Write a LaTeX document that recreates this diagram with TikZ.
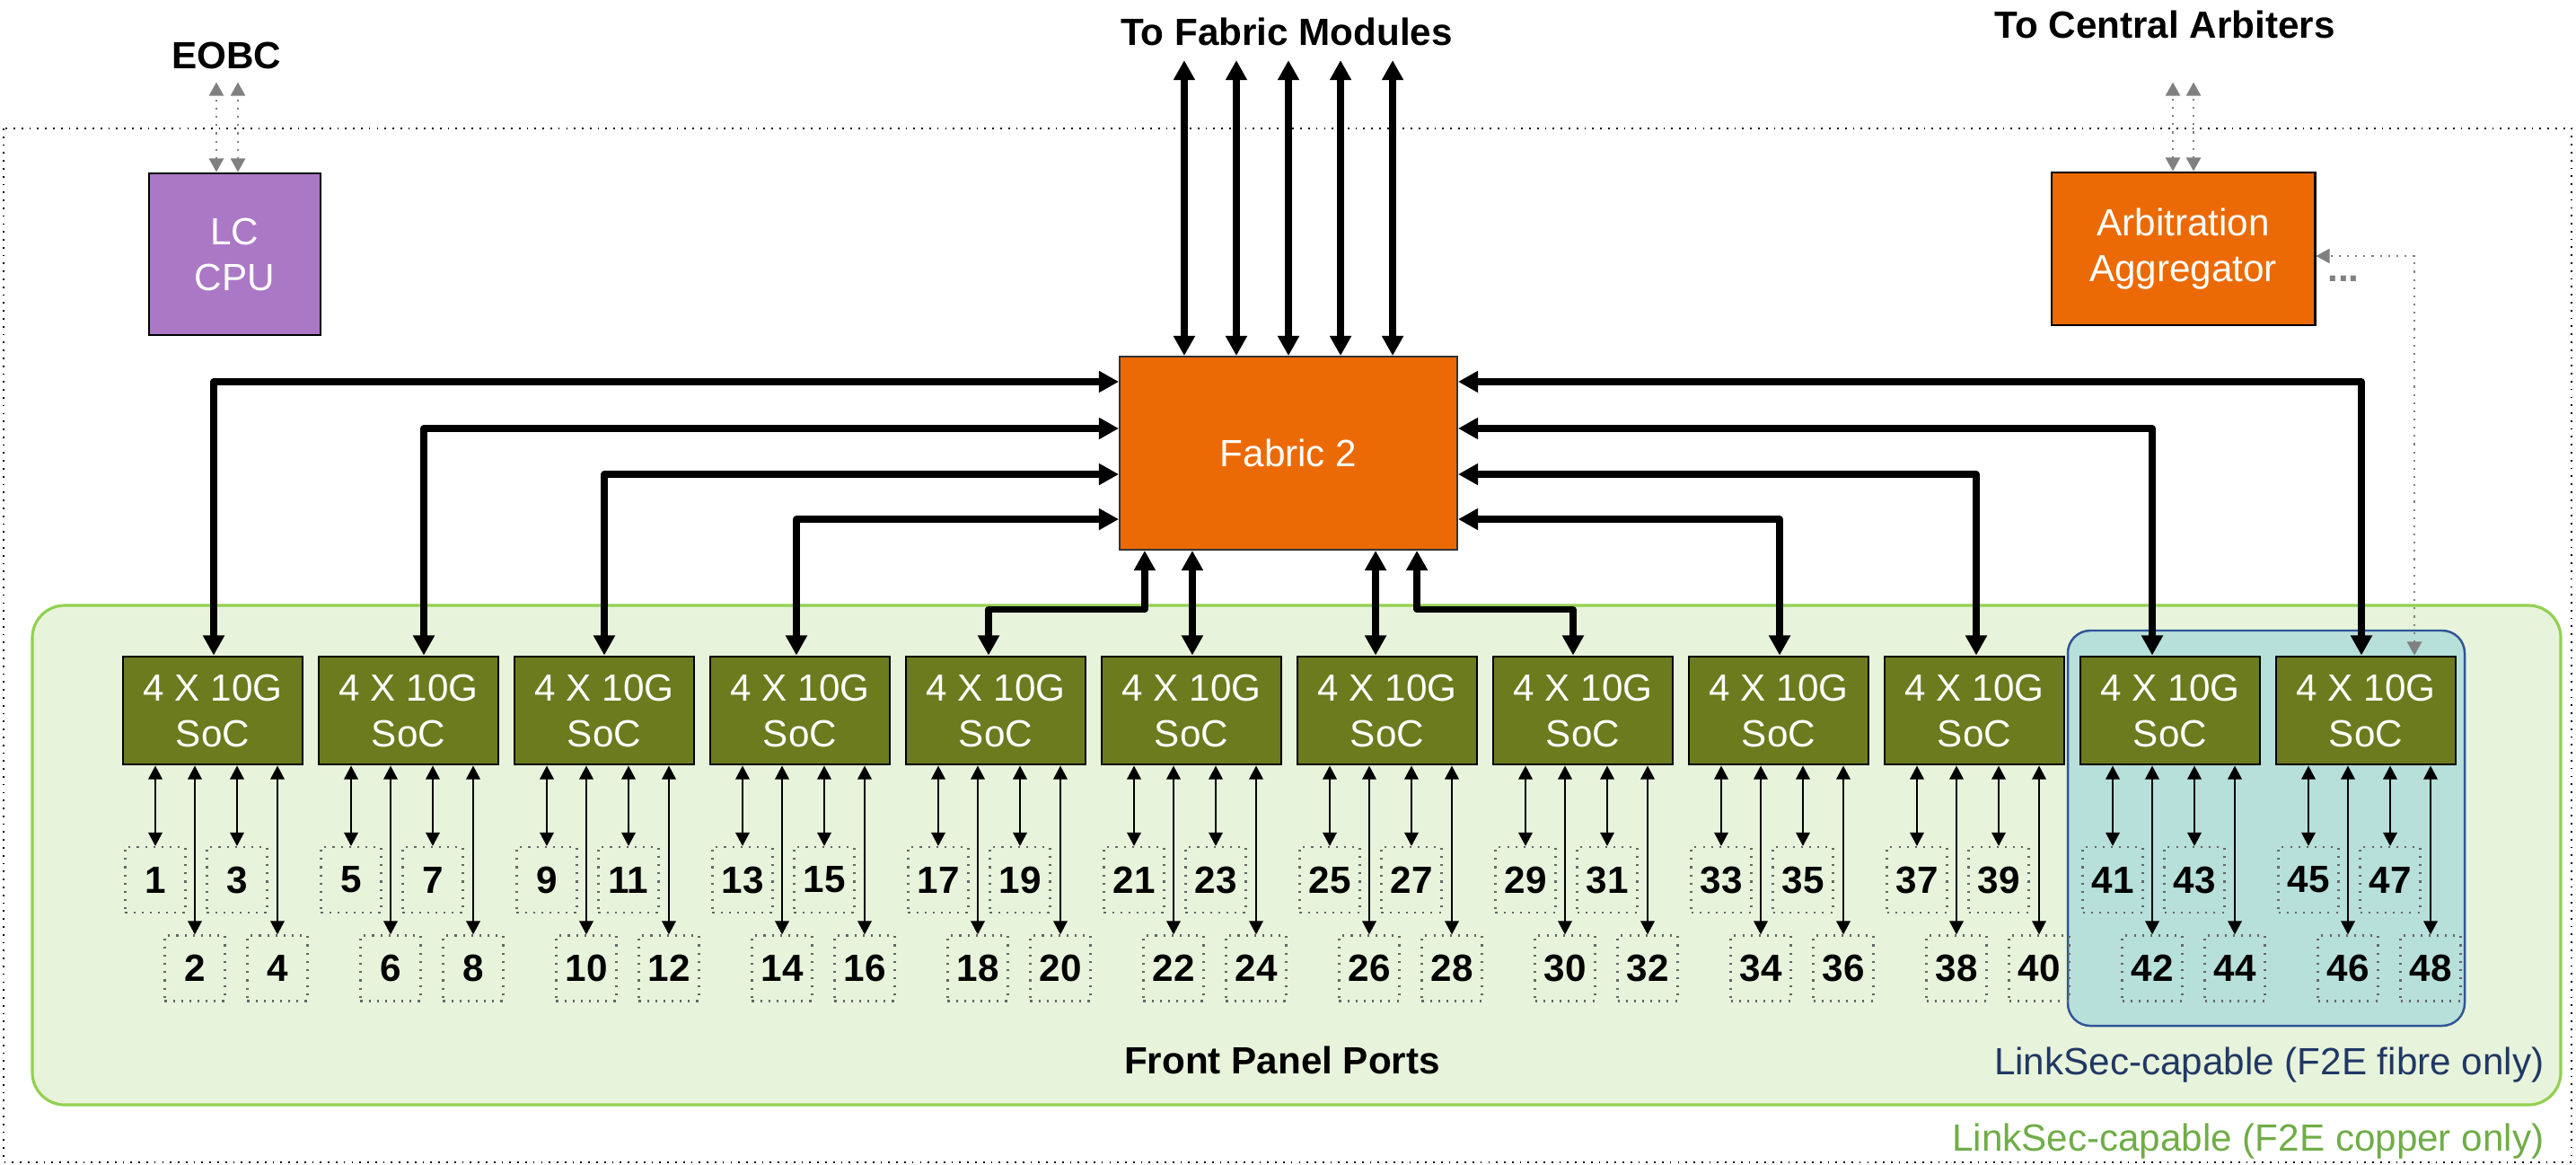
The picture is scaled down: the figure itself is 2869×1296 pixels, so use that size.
\documentclass[tikz,border=0pt]{standalone}
\usepackage{fontspec}
\setmainfont{Liberation Sans}
\usepackage{xcolor}
\usepackage{tikz}
\usetikzlibrary{positioning, arrows.meta, calc}

\definecolor{cpupurple}{HTML}{AB78C6}
\definecolor{fabrange}{HTML}{EC6A05}
\definecolor{socgreen}{HTML}{6B7B1E}
\definecolor{panelfill}{HTML}{E8F3DC}
\definecolor{paneledge}{HTML}{92D050}
\definecolor{fibrefill}{HTML}{B8E0DA}
\definecolor{fibreedge}{HTML}{2F5597}
\definecolor{fibretext}{HTML}{203864}
\definecolor{coppertext}{HTML}{70AD47}
\definecolor{ctlgray}{HTML}{808080}

\tikzset{
  box/.style={draw=black, line width=0.8pt, text=white, align=center,
    font=\fontsize{12pt}{14.5pt}\selectfont},
  soc/.style={box, fill=socgreen, minimum width=2cm, minimum height=1.2cm},
  port/.style={draw=black!60, dotted, line width=0.6pt, minimum width=0.67cm,
    minimum height=0.73cm, inner sep=0pt, font=\bfseries\fontsize{12pt}{14.5pt}\selectfont},
  title/.style={inner sep=0pt, font=\bfseries\fontsize{12pt}{14.5pt}\selectfont},
  note/.style={inner sep=0pt, anchor=base east, font=\fontsize{12pt}{14.5pt}\selectfont},
  bus/.style={line width=2.1pt, line join=round,
    {Triangle[width=6.5pt,length=6.3pt]}-{Triangle[width=6.5pt,length=6.3pt]}},
  link/.style={line width=0.6pt,
    {Triangle[width=4.4pt,length=4.3pt]}-{Triangle[width=4.4pt,length=4.3pt]}},
  ctl/.style={ctlgray, dotted, line width=0.6pt,
    {Triangle[width=4.6pt,length=4.3pt]}-{Triangle[width=4.6pt,length=4.3pt]}},
}

\begin{document}
\begin{tikzpicture}[x=0.01cm, y=-0.01cm]
  % y runs downward: 1 unit = 1 px of the sheet
  \useasboundingbox (0,0) rectangle (2869,1296);
  % Panel regions and card outline
  \draw[paneledge, fill=panelfill, line width=0.9pt, rounded corners=0.36cm] (36,674) rectangle (2852,1230);
  \draw[fibreedge, fill=fibrefill, line width=0.7pt, rounded corners=0.25cm] (2303,702) rectangle (2745,1142);
  \draw[dotted, line width=0.5pt] (4,143) rectangle (2864,1294);

  % Top level blocks
  \node[box, fill=cpupurple, minimum width=1.91cm, minimum height=1.8cm] (cpu) at (261.5,283) {LC\\CPU};
  \node[box, fill=fabrange, draw=black!80, line width=0.5pt, minimum width=3.76cm, minimum height=2.15cm] (fab) at (1435,504.5) {Fabric 2};
  \node[box, fill=fabrange, minimum width=2.93cm, minimum height=1.7cm] (arb) at (2431.5,277) {Arbitration\\Aggregator};
  \node[title] (eobc) at (252,62) {EOBC};
  \node[title] (tofab) at (1433,35) {To Fabric Modules};
  \node[title] (toarb) at (2411,27) {To Central Arbiters};
  \node[title, text=ctlgray, anchor=base] (more) at (2610,313) {...};

  % SoCs with their four ports each
  \foreach \i in {1,...,12} {
    \pgfmathsetmacro{\cx}{237+218*(\i-1)}
    \node[soc] (soc\i) at (\cx,791) {4 X 10G\\SoC};
    \foreach \k/\dx/\py in {1/-64/979.5, 2/-20/1078, 3/27/979.5, 4/72/1078} {
      \pgfmathtruncatemacro{\n}{4*(\i-1)+\k}
      \node[port] (p\n) at (\cx+\dx,\py) {\n};
      \draw[link] (p\n.north |- soc\i.south) -- (p\n.north);
    }
  }

  % Fabric to fabric modules
  \foreach \dx in {-1.16,-0.58,0,0.58,1.16}
    \draw[bus] ([xshift=\dx cm]fab.north) -- ++(0,-329);

  % Fabric to SoCs, left and right
  \draw[bus] ([yshift=0.795cm]fab.west) -| ([xshift=0.01cm]soc1.north);
  \draw[bus] ([yshift=0.275cm]fab.west) -| ([xshift=0.17cm]soc2.north);
  \draw[bus] ([yshift=-0.235cm]fab.west) -| (soc3.north);
  \draw[bus] ([yshift=-0.735cm]fab.west) -| ([xshift=-0.04cm]soc4.north);
  \draw[bus] ([yshift=0.795cm]fab.east) -| ([xshift=-0.05cm]soc12.north);
  \draw[bus] ([yshift=0.275cm]fab.east) -| ([xshift=-0.2cm]soc11.north);
  \draw[bus] ([yshift=-0.235cm]fab.east) -| ([xshift=0.02cm]soc10.north);
  \draw[bus] ([yshift=-0.735cm]fab.east) -| ([xshift=0.01cm]soc9.north);

  % Fabric to SoCs, below
  \draw[bus] ([xshift=-0.08cm]soc5.north) -- ++(0,-51) -| ([xshift=-1.6cm]fab.south);
  \draw[bus] ([xshift=-1.07cm]fab.south) -- ([xshift=-1.07cm]fab.south |- soc6.north);
  \draw[bus] ([xshift=0.97cm]fab.south) -- ([xshift=0.97cm]fab.south |- soc7.north);
  \draw[bus] ([xshift=-0.11cm]soc8.north) -- ++(0,-51) -| ([xshift=1.43cm]fab.south);

  % Control links (EOBC, arbitration)
  \draw[ctl] ([xshift=-0.205cm]cpu.north) -- ++(0,-100);
  \draw[ctl] ([xshift=0.035cm]cpu.north) -- ++(0,-100);
  \draw[ctl] ([xshift=-0.115cm]arb.north) -- ++(0,-99);
  \draw[ctl] ([xshift=0.115cm]arb.north) -- ++(0,-99);
  \draw[ctl] ([xshift=0.54cm]soc12.north) |- ([yshift=-0.08cm]arb.east);

  % Labels
  \node[title] (fpp) at (1428,1180) {Front Panel Ports};
  \node[note, text=fibretext] (fibre) at (2834,1196) {LinkSec-capable (F2E fibre only)};
  \node[note, text=coppertext] (copper) at (2834,1281) {LinkSec-capable (F2E copper only)};
\end{tikzpicture}
\end{document}
